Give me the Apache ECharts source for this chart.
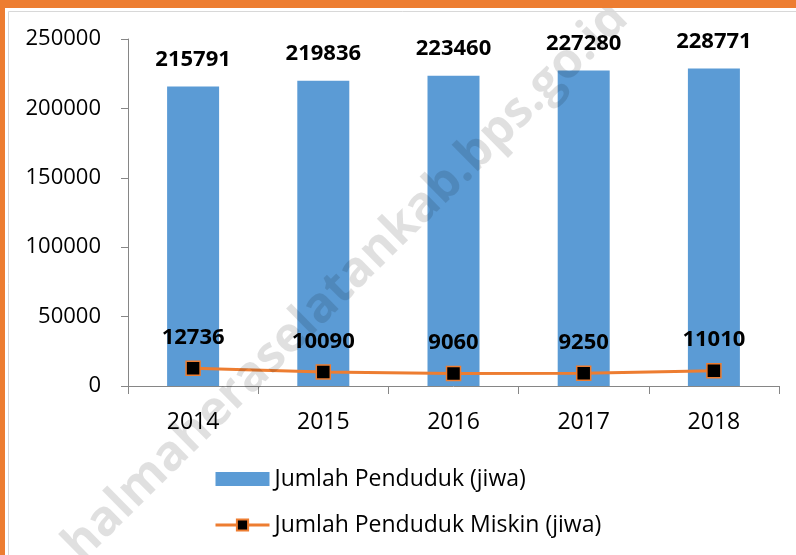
<!DOCTYPE html>
<html>
<head>
<meta charset="utf-8">
<script src="https://cdn.jsdelivr.net/npm/echarts@6/dist/echarts.min.js"></script>
<style>
  html, body { margin: 0; padding: 0; background: #fff; }
  #chart { width: 796px; height: 555px; }
</style>
</head>
<body>
<div id="chart"></div>
<script>
var years = ["2014", "2015", "2016", "2017", "2018"];
var penduduk = [215791, 219836, 223460, 227280, 228771];
var miskin = [12736, 10090, 9060, 9250, 11010];
var yTicks = [0, 50000, 100000, 150000, 200000, 250000];

var font = "Open Sans";
var myChart = echarts.init(document.getElementById("chart"));
var option = {
  backgroundColor: "#fff",
  animation: false,
  textStyle: { fontFamily: font },
  grid: {
    left: 128,
    right: 17,
    top: 39,
    bottom: 169
  },
  legend: {
    orient: "vertical",
    left: 209,
    top: 461,
    itemWidth: 54,
    itemHeight: 14,
    itemGap: 20,
    lineStyle: { width: 3 },
    textStyle: {
      color: "#000",
      fontSize: 23,
      lineHeight: 26,
      fontFamily: font
    },
    data: [
      { name: "Jumlah Penduduk (jiwa)", icon: "rect" },
      { name: "Jumlah Penduduk Miskin (jiwa)" }
    ]
  },
  xAxis: {
    type: "category",
    data: years,
    axisLine: { lineStyle: { color: "#868686", width: 1 } },
    axisTick: { show: true, length: 8, lineStyle: { color: "#868686" } },
    axisLabel: {
      color: "#000",
      fontSize: 23,
      margin: 25,
      fontFamily: font
    }
  },
  yAxis: {
    type: "value",
    min: yTicks[0],
    max: yTicks[yTicks.length - 1],
    interval: yTicks[1] - yTicks[0],
    axisLine: { show: true, lineStyle: { color: "#868686", width: 1 } },
    axisTick: { show: true, length: 7, lineStyle: { color: "#868686" } },
    splitLine: { show: false },
    axisLabel: {
      color: "#000",
      fontSize: 22,
      margin: 27,
      fontFamily: font,
      formatter: function (v) { return String(v); }
    }
  },
  series: [
    {
      name: "Jumlah Penduduk (jiwa)",
      type: "bar",
      data: penduduk,
      barWidth: 52,
      itemStyle: { color: "#5B9BD5" },
      label: {
        show: true,
        position: "top",
        distance: 16,
        color: "#000",
        fontWeight: "bold",
        fontSize: 22,
        fontFamily: font
      }
    },
    {
      name: "Jumlah Penduduk Miskin (jiwa)",
      type: "line",
      data: miskin,
      symbol: "rect",
      symbolSize: 14,
      lineStyle: { color: "#ED7D31", width: 3 },
      itemStyle: { color: "#000", borderColor: "#ED7D31", borderWidth: 1.5 },
      label: {
        show: true,
        position: "top",
        distance: 12,
        color: "#000",
        fontWeight: "bold",
        fontSize: 22,
        fontFamily: font
      },
      z: 3
    }
  ],
  graphic: [
    {
      type: "rect",
      left: 0,
      top: 0,
      shape: { width: 796, height: 8 },
      style: { fill: "#ED7D31" },
      z: 100
    },
    {
      type: "rect",
      left: 0,
      top: 0,
      shape: { width: 5, height: 555 },
      style: { fill: "#ED7D31" },
      z: 100
    },
    {
      type: "rect",
      left: 6,
      top: 9,
      shape: { width: 800, height: 560 },
      style: { fill: null, stroke: "#d8d8d8", lineWidth: 1 },
      z: 99
    },
    {
      type: "text",
      x: 346,
      y: 282,
      rotation: 0.78,
      z: 50,
      style: {
        text: "halmaheraselatankab.bps.go.id",
        fontSize: 49,
        fontWeight: "bold",
        fontFamily: font,
        fill: "rgba(0,0,0,0.12)",
        align: "center",
        verticalAlign: "middle"
      }
    }
  ]
};
myChart.setOption(option);
</script>
</body>
</html>
